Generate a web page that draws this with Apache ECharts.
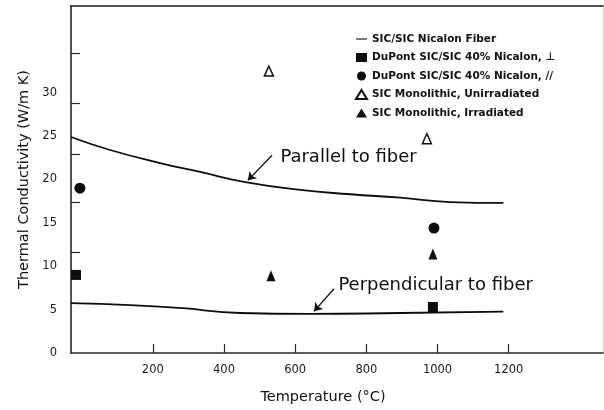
<!DOCTYPE html>
<html>
<head>
<meta charset="utf-8">
<script src="https://cdn.jsdelivr.net/npm/echarts@6/dist/echarts.min.js"></script>
<style>
  html, body { margin: 0; padding: 0; background: #fff; }
  #chart-panel { width: 604px; height: 410px; }
</style>
</head>
<body>
<div id="chart-panel"></div>
<script>
// values (temperature in °C, conductivity in W/m K)
var parallelTemp = [-30, 80, 220, 330, 460, 615, 755, 895, 1035, 1185];
var parallelK = [24.9, 23.4, 21.9, 20.9, 19.7, 18.8, 18.3, 17.9, 17.4, 17.3];
var perpTemp = [-30, 136, 276, 445, 642, 895, 1185];
var perpK = [5.76, 5.53, 5.19, 4.61, 4.5, 4.61, 4.78];

var dupontPerp = [[-16, 9.0], [987, 5.3]];
var dupontPar = [[-5, 19.0], [990, 14.4]];
var monoUnirr = [[526, 32.5], [970, 24.7]];
var monoIrr = [[532, 8.9], [987, 11.4]];

var xTickLabels = [200, 400, 600, 800, 1000, 1200];
var yTickLabels = [0, 5, 10, 15, 20, 25, 30];
var yTickMarks = [11.6, 17.4, 22.9, 28.8, 34.6];

var seriesNames = [
    'SIC/SIC Nicalon Fiber',
    'DuPont SIC/SIC 40% Nicalon, \u22A5',
    'DuPont SIC/SIC 40% Nicalon, //',
    'SIC Monolithic, Unirradiated',
    'SIC Monolithic, Irradiated'
];

// annotation text + arrow (tail -> head), in data units
var notes = [
    { text: 'Parallel to fiber', at: [557, 22.5], tail: [535, 22.8], head: [467, 19.9] },
    { text: 'Perpendicular to fiber', at: [720, 7.8], tail: [709, 7.4], head: [653, 4.8] }
];

function zipXY(xs, ys) {
    return xs.map(function (x, i) { return [x, ys[i]]; });
}

var ink = '#0d0d0d';
var font = 'DejaVu Sans';

var curveStyle = {
    type: 'line',
    name: seriesNames[0],
    smooth: true,
    symbol: 'none',
    lineStyle: { color: ink, width: 1.8 },
    itemStyle: { color: ink },
    z: 3
};

chartOption = {
    backgroundColor: '#fff',
    animation: false,
    grid: {
        show: false,
        top: 6,
        left: 71,
        right: 1,
        bottom: 57
    },
    legend: {
        orient: 'vertical',
        left: 350,
        top: 28,
        itemWidth: 11,
        itemHeight: 9,
        itemGap: 6.5,
        textStyle: {
            fontFamily: font,
            fontWeight: 'bold',
            fontSize: 10.5,
            lineHeight: 12,
            color: '#111'
        },
        data: [
            { name: seriesNames[0], icon: 'path://M0,5L10,5L10,6L0,6Z' },
            { name: seriesNames[1], icon: 'rect' },
            { name: seriesNames[2], icon: 'circle' },
            { name: seriesNames[3], icon: 'triangle' },
            { name: seriesNames[4], icon: 'triangle' }
        ]
    },
    xAxis: [{
        type: 'value',
        min: -30,
        max: 1465,
        name: 'Temperature (\u00B0C)',
        nameLocation: 'middle',
        nameGap: 37,
        nameTextStyle: {
            fontFamily: font,
            fontSize: 14.5,
            color: '#111',
            padding: [0, 28, 0, 0]
        },
        axisLine: { onZero: false, lineStyle: { color: '#2a2a22', width: 1.6 } },
        axisTick: {
            inside: true,
            length: 9,
            customValues: xTickLabels,
            lineStyle: { color: '#2a2a22', width: 1.2 }
        },
        axisLabel: {
            customValues: xTickLabels,
            margin: 11,
            fontFamily: font,
            fontSize: 11.5,
            color: '#1a1a1a',
            formatter: function (v) { return String(v); }
        },
        splitLine: { show: false }
    }, {
        type: 'value',
        position: 'top',
        min: -30,
        max: 1465,
        axisLine: { show: true, onZero: false, lineStyle: { color: '#1a1a1a', width: 1.6 } },
        axisTick: { show: false },
        axisLabel: { show: false },
        splitLine: { show: false }
    }],
    yAxis: [{
        type: 'value',
        min: 0,
        max: 40,
        name: 'Thermal Conductivity (W/m K)',
        nameLocation: 'middle',
        nameGap: 28,
        nameTextStyle: {
            fontFamily: font,
            fontSize: 14.5,
            color: '#111'
        },
        axisLine: { show: true, onZero: false, lineStyle: { color: '#2a2a22', width: 1.6 } },
        axisTick: {
            show: true,
            inside: true,
            length: 9,
            customValues: yTickMarks,
            lineStyle: { color: '#2a2a22', width: 1.2 }
        },
        axisLabel: {
            customValues: yTickLabels,
            margin: 14,
            fontFamily: font,
            fontSize: 11.5,
            color: '#1a1a1a'
        },
        splitLine: { show: false }
    }, {
        type: 'value',
        position: 'right',
        min: 0,
        max: 40,
        axisLine: { show: true, onZero: false, lineStyle: { color: '#d8d8d8', width: 1 } },
        axisTick: { show: false },
        axisLabel: { show: false },
        splitLine: { show: false }
    }],
    series: [
        Object.assign({}, curveStyle, {
            data: zipXY(parallelTemp, parallelK),
            markLine: {
                silent: true,
                symbol: ['none', 'arrow'],
                symbolSize: 8,
                label: { show: false },
                lineStyle: { color: ink, width: 1.3, type: 'solid', curveness: -0.25 },
                data: notes.map(function (n) {
                    return [{ coord: n.tail }, { coord: n.head }];
                })
            },
            markPoint: {
                silent: true,
                symbol: 'circle',
                symbolSize: 1,
                itemStyle: { color: 'rgba(0,0,0,0)' },
                label: {
                    show: true,
                    position: 'right',
                    distance: 0,
                    fontFamily: font,
                    fontSize: 18,
                    color: '#0d0d0d',
                    formatter: function (p) { return p.name; }
                },
                data: notes.map(function (n) {
                    return { name: n.text, coord: n.at };
                })
            }
        }),
        Object.assign({}, curveStyle, {
            data: zipXY(perpTemp, perpK)
        }),
        {
            type: 'scatter',
            name: seriesNames[1],
            symbol: 'rect',
            symbolSize: 10,
            itemStyle: { color: ink, opacity: 1 },
            data: dupontPerp
        },
        {
            type: 'scatter',
            name: seriesNames[2],
            symbol: 'circle',
            symbolSize: 11,
            itemStyle: { color: ink, opacity: 1 },
            data: dupontPar
        },
        {
            type: 'scatter',
            name: seriesNames[3],
            symbol: 'triangle',
            symbolSize: [9, 10],
            itemStyle: { color: '#fff', borderColor: ink, borderWidth: 1.5, opacity: 1 },
            data: monoUnirr
        },
        {
            type: 'scatter',
            name: seriesNames[4],
            symbol: 'triangle',
            symbolSize: [9, 11],
            itemStyle: { color: ink, opacity: 1 },
            data: monoIrr
        }
    ]
};

var chartPanel = document.getElementById('chart-panel');
var myChart = echarts.init(chartPanel);
myChart.setOption(chartOption);
</script>
</body>
</html>
